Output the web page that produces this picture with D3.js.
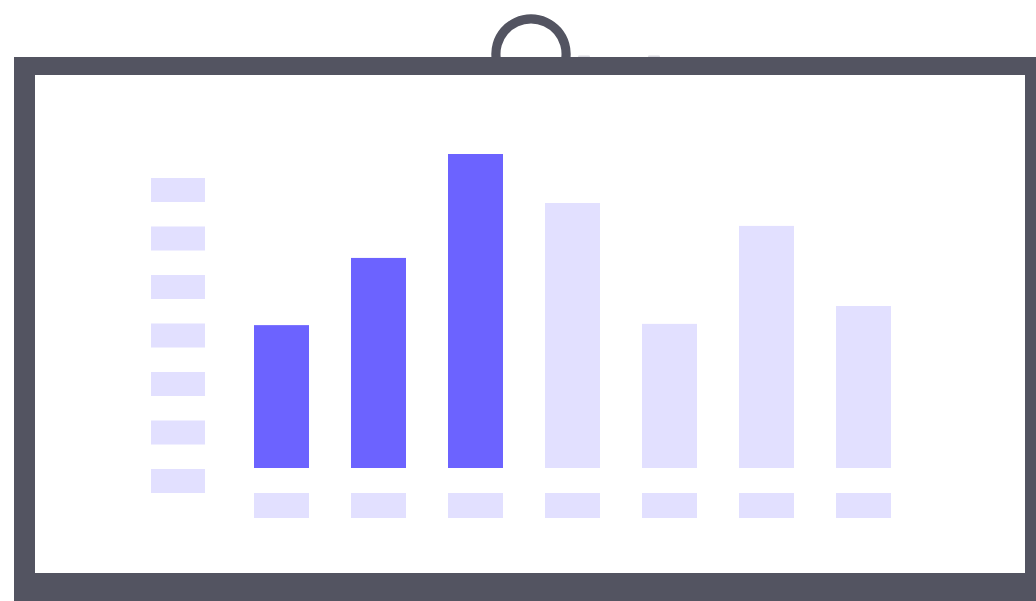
<!DOCTYPE html>
<html>
<head>
<meta charset="utf-8">
<title>Board chart</title>
<script src="https://d3js.org/d3.v7.min.js"></script>
<style>
  html, body { margin: 0; padding: 0; background: #fff; overflow: hidden; }
</style>
</head>
<body>
<script>
// bar values (share of the tallest bar, in %)
var categories = ["a", "b", "c", "d", "e", "f", "g"];
var values = [45.5, 66.9, 100, 84.4, 45.9, 77.1, 51.6];
// how many bars from the left are highlighted
var highlighted = 3;
// y axis tick placeholders, top to bottom
var yTicks = ["t7", "t6", "t5", "t4", "t3", "t2", "t1"];

var W = 1036, H = 601;
var frameCol = "#535461";
var dark = "#6c63ff";
var light = "#e2e0ff";

var svg = d3.select("body").append("svg")
  .attr("width", W)
  .attr("height", H);

// hook on top of the board
var arc = d3.arc()
  .innerRadius(30.5)
  .outerRadius(39.7)
  .startAngle(-Math.PI / 2 - 0.15)
  .endAngle(Math.PI / 2 + 0.15);
svg.append("path")
  .attr("d", arc())
  .attr("transform", "translate(531,54)")
  .attr("fill", frameCol);

// tiny marker caps on the top edge (barely visible)
svg.selectAll("rect.cap")
  .data([578, 648])
  .enter()
  .append("rect")
  .attr("class", "cap")
  .attr("x", function(d) { return d; })
  .attr("y", 55.5)
  .attr("width", 12)
  .attr("height", 2)
  .attr("rx", 1)
  .attr("fill", "#dcdce2");

// frame and board
svg.append("rect")
  .attr("x", 14).attr("y", 57)
  .attr("width", 1060).attr("height", 580)
  .attr("fill", frameCol);
svg.append("rect")
  .attr("x", 35).attr("y", 75)
  .attr("width", 990).attr("height", 498)
  .attr("fill", "#fff");

// scales: step 97, bar width 55
var x = d3.scaleBand()
  .domain(categories)
  .range([254, 254 + 97 * 6 + 55])
  .paddingInner(42 / 97)
  .paddingOuter(0);

var y = d3.scaleLinear()
  .domain([0, 100])
  .range([468, 154]);

var yt = d3.scalePoint()
  .domain(yTicks)
  .range([190, 481]);

// bars
svg.selectAll("rect.bar")
  .data(values)
  .enter()
  .append("rect")
  .attr("class", "bar")
  .attr("x", function(d, i) { return x(categories[i]); })
  .attr("y", function(d) { return y(d); })
  .attr("width", x.bandwidth())
  .attr("height", function(d) { return y(0) - y(d); })
  .attr("fill", function(d, i) { return i < highlighted ? dark : light; });

// x label placeholders
svg.selectAll("rect.xlab")
  .data(categories)
  .enter()
  .append("rect")
  .attr("class", "xlab")
  .attr("x", function(d) { return x(d); })
  .attr("y", 493)
  .attr("width", x.bandwidth())
  .attr("height", 25)
  .attr("fill", light);

// y tick placeholders
svg.selectAll("rect.ylab")
  .data(yTicks)
  .enter()
  .append("rect")
  .attr("class", "ylab")
  .attr("x", 151)
  .attr("y", function(d) { return yt(d) - 12; })
  .attr("width", 54)
  .attr("height", 24)
  .attr("fill", light);
</script>
</body>
</html>
